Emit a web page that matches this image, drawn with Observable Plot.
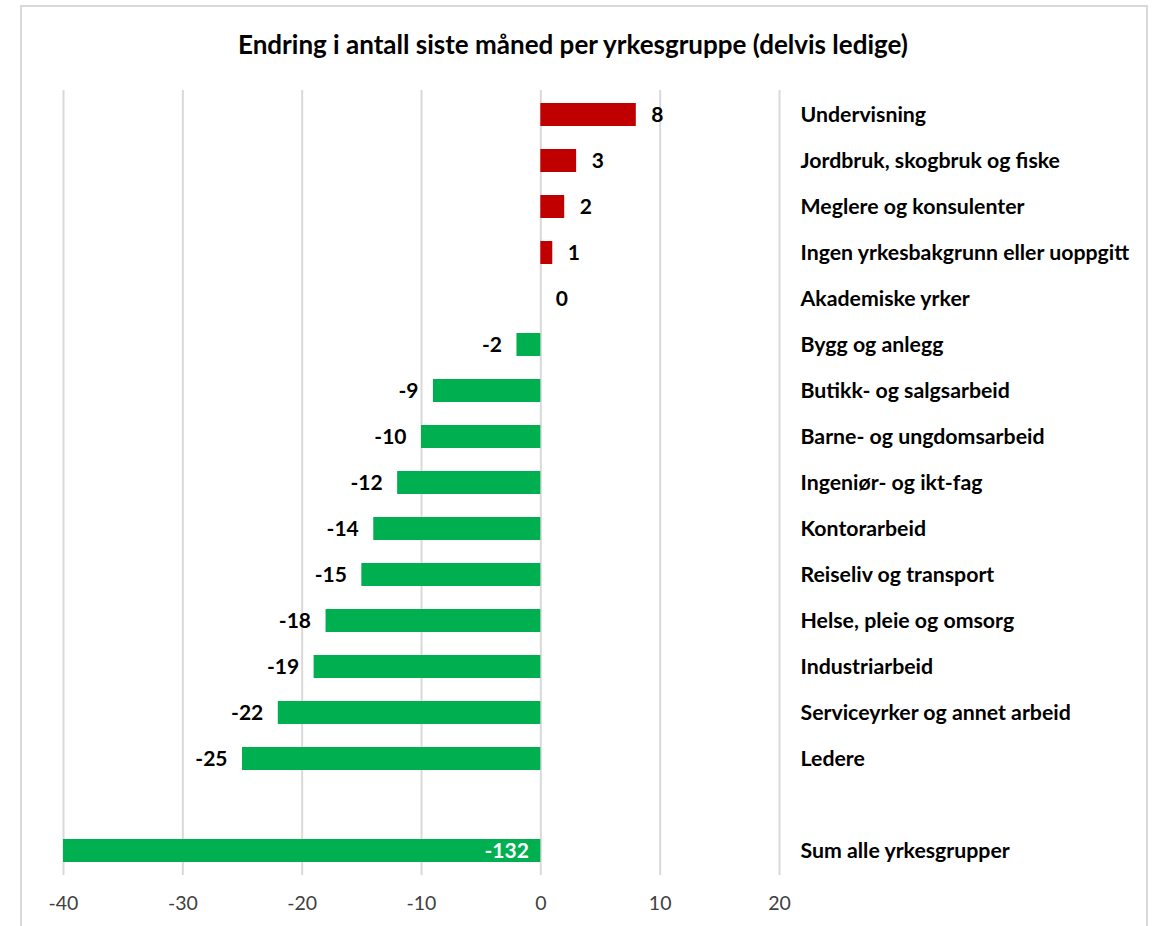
<!DOCTYPE html>
<html>
<head>
<meta charset="utf-8">
<script src="https://cdn.jsdelivr.net/npm/d3@7"></script>
<script src="https://cdn.jsdelivr.net/npm/@observablehq/plot@0.6"></script>
<style>
  html, body { margin: 0; padding: 0; background: #fff; width: 1157px; height: 926px; overflow: hidden; }
  #frame { position: absolute; left: 20px; top: 5px; width: 1128px; height: 960px; border: 2px solid #d9d9d9; box-sizing: border-box; }
  #title { position: absolute; left: 20px; width: 1106px; top: 28px; text-align: center; font-family: Lato, sans-serif; font-weight: bold; font-size: 26px; color: #000; line-height: 32px; }
  #chart { position: absolute; left: 0; top: 0; }
  #chart g[aria-label="y-axis tick label"] text { font-weight: bold; font-size: 21.3px; fill: #000; }
  #chart g[aria-label="x-axis tick label"] text { font-size: 19.5px; fill: #404040; }
</style>
</head>
<body>
<div id="frame"></div>
<div id="title">Endring i antall siste måned per yrkesgruppe (delvis ledige)</div>
<div id="chart"></div>
<script>
const categories = [
  "Undervisning",
  "Jordbruk, skogbruk og fiske",
  "Meglere og konsulenter",
  "Ingen yrkesbakgrunn eller uoppgitt",
  "Akademiske yrker",
  "Bygg og anlegg",
  "Butikk- og salgsarbeid",
  "Barne- og ungdomsarbeid",
  "Ingeniør- og ikt-fag",
  "Kontorarbeid",
  "Reiseliv og transport",
  "Helse, pleie og omsorg",
  "Industriarbeid",
  "Serviceyrker og annet arbeid",
  "Ledere",
  " ",
  "Sum alle yrkesgrupper"
];
const values = [8, 3, 2, 1, 0, -2, -9, -10, -12, -14, -15, -18, -19, -22, -25, null, -132];
const xTicks = [-40, -30, -20, -10, 0, 10, 20];
const sumCategory = "Sum alle yrkesgrupper";

const data = categories.map((c, i) => ({category: c, value: values[i]})).filter(d => d.value !== null);
const rows = data.filter(d => d.category !== sumCategory);
const sumRow = data.filter(d => d.category === sumCategory);

const chart = Plot.plot({
  width: 1157,
  height: 926,
  marginLeft: 63,
  marginRight: 378,
  marginTop: 90,
  marginBottom: 51,
  style: {fontFamily: "Lato, sans-serif", fontSize: "19px", background: "transparent"},
  x: {domain: [-40, 20], ticks: xTicks, clamp: true, label: null},
  y: {domain: categories, paddingInner: 0.5, paddingOuter: 0.25, label: null},
  marks: [
    Plot.gridX(xTicks, {stroke: "#d9d9d9", strokeWidth: 2, strokeOpacity: 1}),
    Plot.barX(data.filter(d => d.value !== 0), {
      y: "category", x1: 0, x2: "value",
      fill: d => d.value > 0 ? "#C00000" : "#00B050"
    }),
    Plot.text(rows.filter(d => d.value >= 0), {
      y: "category", x: "value", text: d => String(d.value),
      dx: 15, textAnchor: "start", fontWeight: "bold", fontSize: 21, fill: "#000"
    }),
    Plot.text(rows.filter(d => d.value < 0), {
      y: "category", x: "value", text: d => String(d.value),
      dx: -15, textAnchor: "end", fontWeight: "bold", fontSize: 21, fill: "#000"
    }),
    Plot.text(sumRow, {
      y: "category", x: 0, text: d => String(d.value),
      dx: -12, textAnchor: "end", fontWeight: "bold", fontSize: 21, fill: "#fff"
    }),
    Plot.axisX({ticks: xTicks, tickSize: 0, tickPadding: 21, anchor: "bottom", tickFormat: d => String(d)}),
    Plot.axisY({anchor: "right", tickSize: 0, tickPadding: 21, textAnchor: "start"})
  ]
});
document.getElementById("chart").appendChild(chart);
</script>
</body>
</html>
